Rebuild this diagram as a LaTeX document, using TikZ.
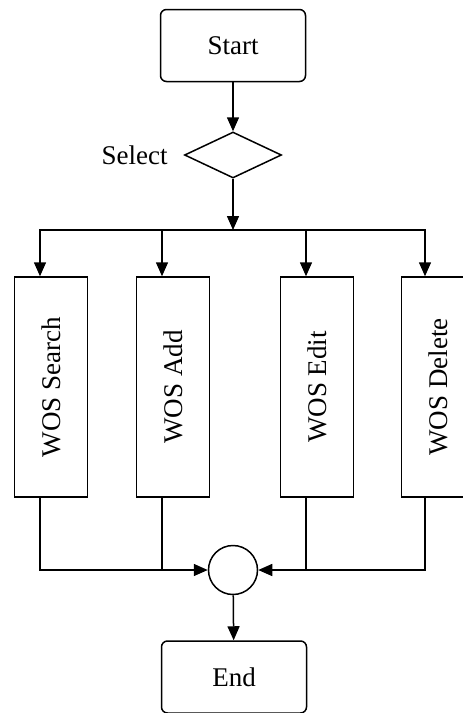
\documentclass[tikz,border=0pt]{standalone}
\usepackage{fontspec}
\setmainfont{Liberation Serif}
\usetikzlibrary{arrows.meta,shapes.geometric,positioning}

\tikzset{
  flow/.style={-{Triangle[length=14pt,width=12pt]}},
  terminal/.style={draw, rounded corners=6pt, minimum width=145pt, minimum height=72pt, inner sep=0pt},
  taskbox/.style={draw, rotate=90, minimum width=220pt, minimum height=73pt, inner sep=0pt}
}

\begin{document}
\begin{tikzpicture}[x=1pt, y=-1pt, line width=1.5pt, font=\fontsize{27}{30}\selectfont]
    \useasboundingbox (0,0) rectangle (463,713);

    \node[terminal] (start) at (233,45.5) {Start};
    \node[draw, diamond, minimum width=97pt, minimum height=46pt, inner sep=0pt] (select) at (233,155) {};
    \node[left=12pt of select] (selectlbl) {Select};
    \coordinate (split) at (233,230);

    \node[taskbox] (search) at (51,387) {WOS Search};
    \node[taskbox] (add) at (173,387) {WOS Add};
    \node[taskbox] (edit) at (317,387) {WOS Edit};
    \node[taskbox] (delete) at (438,387) {WOS Delete};

    \node[draw, circle, minimum size=49pt, inner sep=0pt] (merge) at (233,570) {};
    \node[terminal] (end) at (234,677) {End};

    \draw[flow] (start) -- (select);
    \draw[flow] (select) -- (split);
    \draw[flow] (split) -| ([xshift=-11pt]search.east);
    \draw[flow] (split) -| ([xshift=-11pt]add.east);
    \draw[flow] (split) -| ([xshift=-11pt]edit.east);
    \draw[flow] (split) -| ([xshift=-13pt]delete.east);

    \draw[flow] ([xshift=-11pt]search.west) |- (merge.west);
    \draw ([xshift=-11pt]add.west) -- ([xshift=-11pt]add.west |- merge.west);
    \draw[flow] ([xshift=-13pt]delete.west) |- (merge.east);
    \draw ([xshift=-11pt]edit.west) -- ([xshift=-11pt]edit.west |- merge.east);
    \draw[flow] (merge) -- (end);
\end{tikzpicture}
\end{document}
